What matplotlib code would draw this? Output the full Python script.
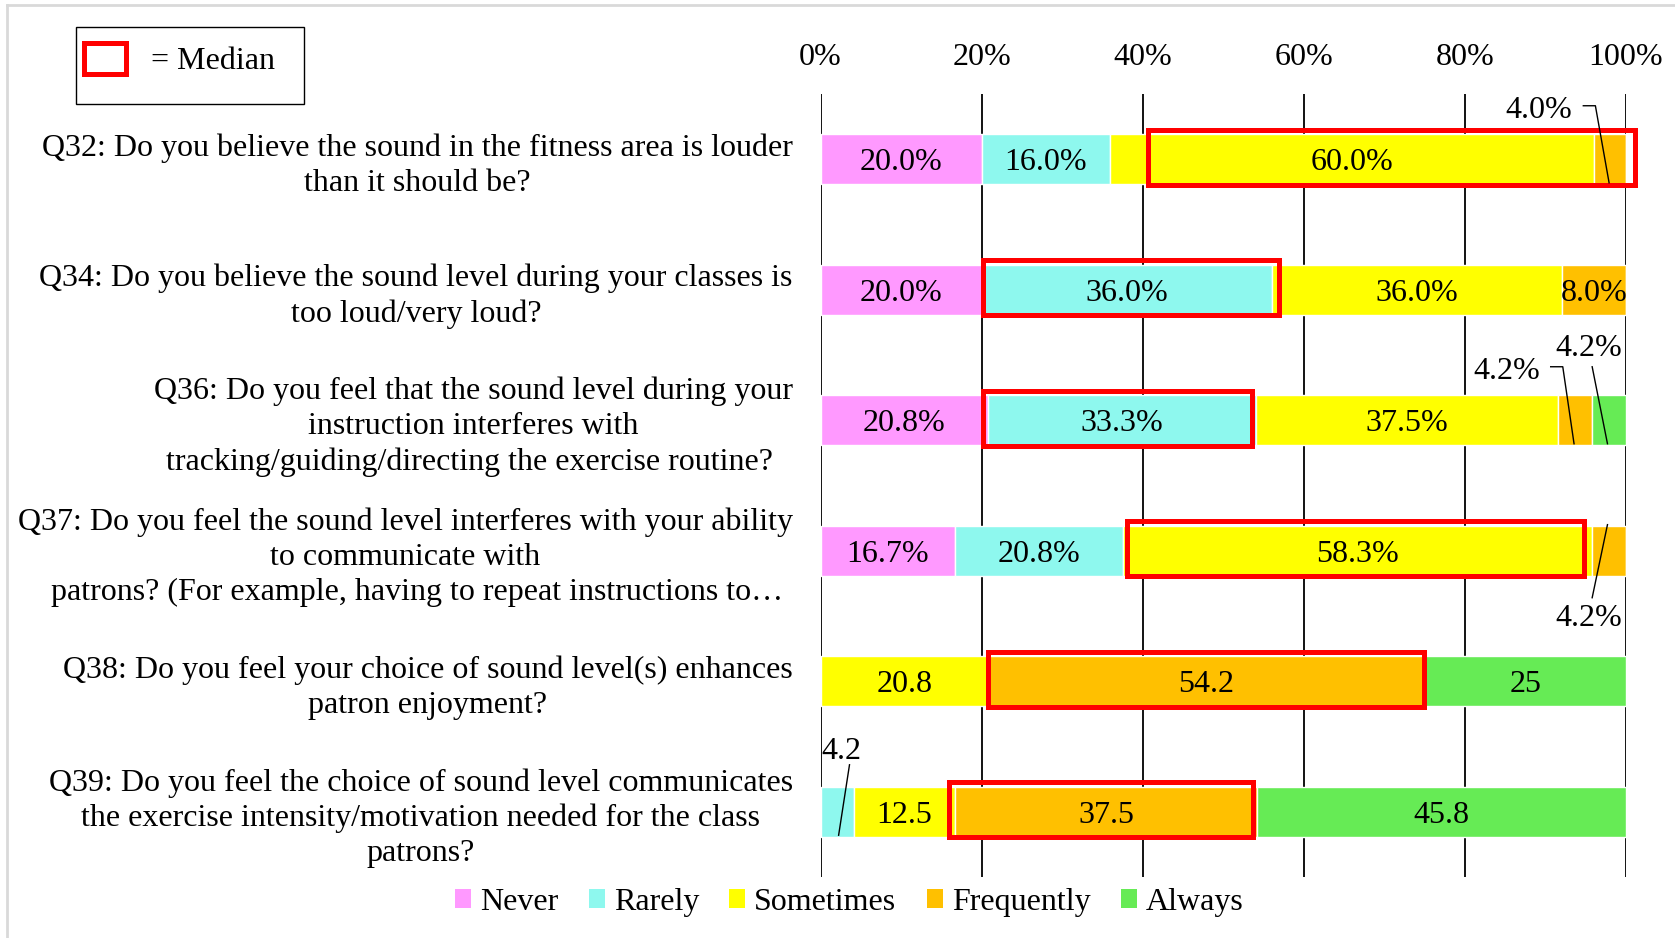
import matplotlib
matplotlib.use("Agg")
import matplotlib.pyplot as plt
from matplotlib.patches import Rectangle, Patch
from matplotlib.lines import Line2D

plt.rcParams["font.family"] = ["Liberation Serif", "DejaVu Serif"]

# ---- data -------------------------------------------------------------
questions = [
    "Q32: Do you believe the sound in the fitness area is louder\nthan it should be?",
    "Q34: Do you believe the sound level during your classes is\ntoo loud/very loud?",
    "Q36: Do you feel that the sound level during your\ninstruction interferes with\ntracking/guiding/directing the exercise routine? ",
    "Q37: Do you feel the sound level interferes with your ability\nto communicate with\n   patrons? (For example, having to repeat instructions to\u2026",
    "Q38: Do you feel your choice of sound level(s) enhances\npatron enjoyment?",
    "Q39: Do you feel the choice of sound level communicates\nthe exercise intensity/motivation needed for the class\npatrons?",
]
categories = ["Never", "Rarely", "Sometimes", "Frequently", "Always"]
never      = [20.0, 20.0, 20.8, 16.7, 0.0, 0.0]
rarely     = [16.0, 36.0, 33.3, 20.8, 0.0, 4.2]
sometimes  = [60.0, 36.0, 37.5, 58.3, 20.8, 12.5]
frequently = [4.0, 8.0, 4.2, 4.2, 54.2, 37.5]
always     = [0.0, 0.0, 4.2, 0.0, 25.0, 45.8]
# label style per question: percent with one decimal, or plain number
label_percent = [True, True, True, True, False, False]
# extent (in %) of the red median outline on each bar
median_lo = [40.7, 20.2, 20.2, 38.1, 20.8, 16.0]
median_hi = [101.1, 56.9, 53.6, 94.8, 74.9, 53.7]
xticks = [0, 20, 40, 60, 80, 100]
xtick_labels = ["0%", "20%", "40%", "60%", "80%", "100%"]

colors = ["#FF99FF", "#8EF8EE", "#FFFF00", "#FFC000", "#66EB55"]

# ---- figure -----------------------------------------------------------
W, H = 1675, 938
fig = plt.figure(figsize=(W / 100, H / 100), dpi=100)
ax_l, ax_r, ax_t, ax_b = 820.5, 1626, 94, 877
ax = fig.add_axes([ax_l / W, 1 - ax_b / H, (ax_r - ax_l) / W, (ax_b - ax_t) / H])

series = [never, rarely, sometimes, frequently, always]
ypos = list(range(len(questions)))
bar_h = 0.385
fs = 23

left = [0.0] * len(questions)
segments = {}
for ci, (vals, col) in enumerate(zip(series, colors)):
    ax.barh(ypos, vals, left=left, height=bar_h, color=col,
            edgecolor="white", linewidth=1.0, zorder=2)
    for qi, v in enumerate(vals):
        if v > 0:
            segments[(qi, ci)] = (left[qi], v)
    left = [l + v for l, v in zip(left, vals)]


def fmt(qi, v):
    return f"{v:.1f}%" if label_percent[qi] else f"{v:g}"


# callouts for narrow segments: (text dx, text dy, ha, leader points as (dx, dy))
callouts = {
    (0, 3): (-4.7, -0.40, "right", [(-3.3, -0.41), (-1.8, -0.41), (-0.1, 0.18)]),
    (2, 3): (-4.4, -0.40, "right", [(-3.05, -0.41), (-1.55, -0.41), (-0.15, 0.18)]),
    (2, 4): (-2.5, -0.58, "center", [(-2.1, -0.41), (-0.2, 0.18)]),
    (3, 3): (-2.5, 0.49, "center", [(-2.1, 0.36), (-0.2, -0.20)]),
    (5, 1): (0.55, -0.49, "center", [(1.5, -0.36), (0.15, 0.18)]),
}

for (qi, ci), (start, v) in segments.items():
    cx = start + v / 2
    if (qi, ci) in callouts:
        dx, dy, ha, pts = callouts[(qi, ci)]
        ax.text(cx + dx, qi + dy, fmt(qi, v), ha=ha, va="center_baseline",
                fontsize=fs, zorder=5, clip_on=False)
        ax.add_line(Line2D([cx + p[0] for p in pts], [qi + p[1] for p in pts],
                           color="black", lw=1.0, zorder=6, clip_on=False))
    else:
        ax.text(cx, qi, fmt(qi, v), ha="center", va="center_baseline",
                fontsize=fs, zorder=5)

# median outlines
for qi, (lo, hi) in enumerate(zip(median_lo, median_hi)):
    ax.add_patch(Rectangle((lo, qi - 0.225), hi - lo, 0.42, fill=False,
                           edgecolor="#FF0000", linewidth=3.6, zorder=4,
                           clip_on=False))

ax.set_xlim(0, 100)
ax.set_ylim(len(questions) - 0.5, -0.5)
ax.xaxis.tick_top()
ax.set_xticks(xticks)
ax.set_xticklabels(xtick_labels, fontsize=fs)
ax.tick_params(axis="x", length=0, pad=16)
ax.set_yticks(ypos)
ax.set_yticklabels(questions, fontsize=fs, ha="right", multialignment="center",
                   linespacing=1.27)
ax.tick_params(axis="y", length=0, pad=20)
ax.grid(axis="x", color="black", linewidth=1.3, zorder=0)
ax.set_axisbelow(True)
for s in ax.spines.values():
    s.set_visible(False)

# bottom legend
handles = [Patch(facecolor=c, edgecolor="none", label=n) for c, n in zip(colors, categories)]
fig.legend(handles=handles, loc="center", bbox_to_anchor=(0.507, 0.038), ncol=5,
           frameon=False, fontsize=fs, handlelength=0.5, handleheight=0.5,
           handletextpad=0.28, columnspacing=0.95)

# median key
fig.add_artist(Rectangle((76 / W, 1 - 104 / H), 228 / W, 77 / H, fill=False,
                         edgecolor="black", linewidth=1.0, transform=fig.transFigure))
fig.add_artist(Rectangle((83.5 / W, 1 - 74.5 / H), 42 / W, 31 / H, fill=False,
                         edgecolor="#FF0000", linewidth=3.6, transform=fig.transFigure))
fig.text(151 / W, 1 - 58 / H, "= Median", fontsize=fs, ha="left", va="center_baseline")

# light outer frame (top and left edges)
fig.add_artist(Line2D([7 / W, 7 / W], [0, 1 - 5 / H], color="#D9D9D9", lw=2,
                      transform=fig.transFigure))
fig.add_artist(Line2D([7 / W, 1], [1 - 5 / H, 1 - 5 / H], color="#D9D9D9", lw=2,
                      transform=fig.transFigure))

fig.savefig("out.png", dpi=100)
